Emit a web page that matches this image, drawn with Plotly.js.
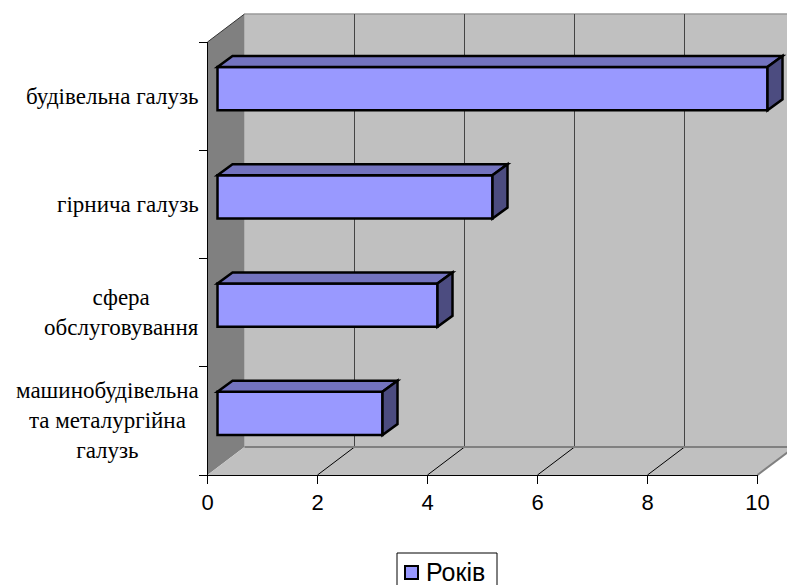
<!DOCTYPE html>
<html>
<head>
<meta charset="utf-8">
<script src="https://cdn.plot.ly/plotly-3.0.1.min.js"></script>
<style>html,body{margin:0;padding:0;background:#fff;}#chart{width:787px;height:585px;}</style>
</head>
<body>
<div id="chart"></div>
<script>
// ---- data ----
const categories = ['будівельна галузь', 'гірнича галузь', 'сфера<br>обслуговування', 'машинобудівельна<br>та металургійна<br>галузь'];
const values = [10, 5, 4, 3];
const seriesName = 'Років';
const xTicks = [0, 2, 4, 6, 8, 10];

// ---- geometry (layout only) ----
const W = 787, H = 585;
const X0 = 207.5, PXU = 55;          // front plane: value 0 at X0, px per unit
const YT = 42, YB = 475;             // front plane vertical extent
const DEPTH = [37, -28];             // wall depth
const BAROFF = [10, -7.5];           // bar front face offset from front plane
const BARDEPTH = [15, -11];          // bar depth
const n = categories.length;
const PXC = (YB - YT) / n;           // px per category
const fx = p => p / W;
const fy = p => 1 - p / H;
const pos = categories.map((c, i) => n - 1 - i);
const xmin = -0.1;
const BAR_W = 0.4;
const BAR_COLOR = '#9999FF';

const serif = 'Liberation Serif';
const sans = 'Liberation Sans, Arial, sans-serif';

const trace = {
  type: 'bar', orientation: 'h', name: seriesName,
  x: values, y: pos, width: BAR_W,
  marker: {color: BAR_COLOR, line: {color: '#000', width: 2.5}},
  xaxis: 'x', yaxis: 'y', hoverinfo: 'x', showlegend: false
};

const shapes = [];
const P = (x, y) => fx(x) + ',' + fy(y);
// back wall
shapes.push({type: 'rect', xref: 'paper', yref: 'paper', layer: 'below',
  x0: fx(X0 + DEPTH[0]), x1: 1, y0: fy(YB + DEPTH[1]), y1: fy(YT + DEPTH[1]),
  fillcolor: '#C0C0C0', line: {width: 0}});
shapes.push({type: 'line', xref: 'paper', yref: 'paper', layer: 'below',
  x0: fx(X0 + DEPTH[0]), x1: 1, y0: fy(YT + DEPTH[1]), y1: fy(YT + DEPTH[1]),
  line: {color: '#9a9a9a', width: 1.5}});
// left wall
shapes.push({type: 'path', xref: 'paper', yref: 'paper', layer: 'below',
  path: 'M' + P(X0, YT) + 'L' + P(X0 + DEPTH[0], YT + DEPTH[1]) + 'L' + P(X0 + DEPTH[0], YB + DEPTH[1]) + 'L' + P(X0, YB) + 'Z',
  fillcolor: '#808080', line: {width: 0}});
shapes.push({type: 'line', xref: 'paper', yref: 'paper', layer: 'below',
  x0: fx(X0), y0: fy(YT), x1: fx(X0 + DEPTH[0]), y1: fy(YT + DEPTH[1]),
  line: {color: '#333', width: 1}});
// floor
const xEnd = X0 + PXU * xTicks[xTicks.length - 1];
shapes.push({type: 'path', xref: 'paper', yref: 'paper', layer: 'below',
  path: 'M' + P(X0, YB) + 'L' + P(xEnd, YB) + 'L' + P(xEnd + DEPTH[0], YB + DEPTH[1]) + 'L' + P(X0 + DEPTH[0], YB + DEPTH[1]) + 'Z',
  fillcolor: '#C0C0C0', line: {width: 0}});
// back wall gridlines and floor diagonals
xTicks.slice(1, -1).forEach(t => {
  const xf = X0 + PXU * t;
  shapes.push({type: 'line', xref: 'paper', yref: 'paper', layer: 'below',
    x0: fx(xf + DEPTH[0]), x1: fx(xf + DEPTH[0]), y0: fy(YT + DEPTH[1]), y1: fy(YB + DEPTH[1]),
    line: {color: '#444', width: 1}});
  shapes.push({type: 'line', xref: 'paper', yref: 'paper', layer: 'below',
    x0: fx(xf), y0: fy(YB), x1: fx(xf + DEPTH[0]), y1: fy(YB + DEPTH[1]),
    line: {color: '#000', width: 1}});
});
shapes.push({type: 'line', xref: 'paper', yref: 'paper', layer: 'below',
  x0: fx(X0 + DEPTH[0]), x1: 1, y0: fy(YB + DEPTH[1]), y1: fy(YB + DEPTH[1]),
  line: {color: '#808080', width: 2}});
shapes.push({type: 'line', xref: 'paper', yref: 'paper', layer: 'below',
  x0: fx(xEnd), y0: fy(YB), x1: fx(xEnd + DEPTH[0]), y1: fy(YB + DEPTH[1]),
  line: {color: '#808080', width: 2}});

// 3D faces of bars (data coords)
const ddx = BARDEPTH[0] / PXU, ddy = -BARDEPTH[1] / PXC, hw = BAR_W / 2;
values.forEach((v, i) => {
  const p = pos[i];
  shapes.push({type: 'path', xref: 'x', yref: 'y', layer: 'above',
    path: `M0,${p + hw}L${v},${p + hw}L${v + ddx},${p + hw + ddy}L${ddx},${p + hw + ddy}Z`,
    fillcolor: '#7373BF', line: {color: '#000', width: 2.5}});
  shapes.push({type: 'path', xref: 'x', yref: 'y', layer: 'above',
    path: `M${v},${p - hw}L${v},${p + hw}L${v + ddx},${p + hw + ddy}L${v + ddx},${p - hw + ddy}Z`,
    fillcolor: '#4C4C80', line: {color: '#000', width: 2.5}});
});

// legend (box, swatch, label)
shapes.push({type: 'rect', xref: 'paper', yref: 'paper', layer: 'above',
  x0: fx(397), x1: fx(497), y0: fy(600), y1: fy(553),
  fillcolor: '#fff', line: {color: '#000', width: 1}});
shapes.push({type: 'rect', xref: 'paper', yref: 'paper', layer: 'above',
  x0: fx(405), x1: fx(418), y0: fy(579), y1: fy(566),
  fillcolor: BAR_COLOR, line: {color: '#000', width: 2}});

const annotations = categories.map((c, i) => ({
  text: c, xref: 'paper', yref: 'y2', x: fx(201), y: pos[i],
  xanchor: 'right', yanchor: 'middle', align: 'center', showarrow: false,
  font: {family: serif, size: 23, color: '#000'}
}));
annotations.push({text: seriesName, xref: 'paper', yref: 'paper', x: fx(424), y: fy(572),
  xanchor: 'left', yanchor: 'middle', showarrow: false,
  font: {family: sans, size: 25, color: '#000'}});

const layout = {
  width: W, height: H,
  margin: {l: 0, r: 0, t: 0, b: 0, pad: 0, autoexpand: false},
  paper_bgcolor: '#fff', plot_bgcolor: 'rgba(0,0,0,0)',
  showlegend: false,
  xaxis: {domain: [fx(X0 + BAROFF[0] + xmin * PXU), 1], range: [xmin, (W - X0 - BAROFF[0]) / PXU],
    showgrid: false, zeroline: false, showline: false, showticklabels: false, ticks: '', anchor: 'y', fixedrange: true},
  yaxis: {domain: [fy(YB + BAROFF[1]), fy(YT + BAROFF[1] - 30)], range: [-0.5, n - 0.5 + 30 / PXC],
    showgrid: false, zeroline: false, showline: false, showticklabels: false, ticks: '', anchor: 'x', fixedrange: true},
  xaxis2: {domain: [fx(X0), fx(xEnd)], range: [xTicks[0], xTicks[xTicks.length - 1]], anchor: 'y2',
    tickvals: xTicks, ticktext: xTicks.map(String), ticks: 'outside', ticklen: 8, tickcolor: '#000', tickwidth: 1,
    showline: true, linecolor: '#000', linewidth: 1, showgrid: false, zeroline: false,
    tickfont: {family: sans, size: 22, color: '#000'}, fixedrange: true},
  yaxis2: {domain: [fy(YB), fy(YT)], range: [-0.5, n - 0.5], anchor: 'x2',
    tickvals: pos.map(p => p - 0.5).concat([n - 0.5]), ticks: 'outside', ticklen: 8, tickcolor: '#000', tickwidth: 1,
    showticklabels: false, showline: true, linecolor: '#000', linewidth: 1, showgrid: false, zeroline: false, fixedrange: true},
  shapes: shapes,
  annotations: annotations
};

Plotly.newPlot('chart', [trace], layout, {staticPlot: true, displayModeBar: false});
</script>
</body>
</html>
